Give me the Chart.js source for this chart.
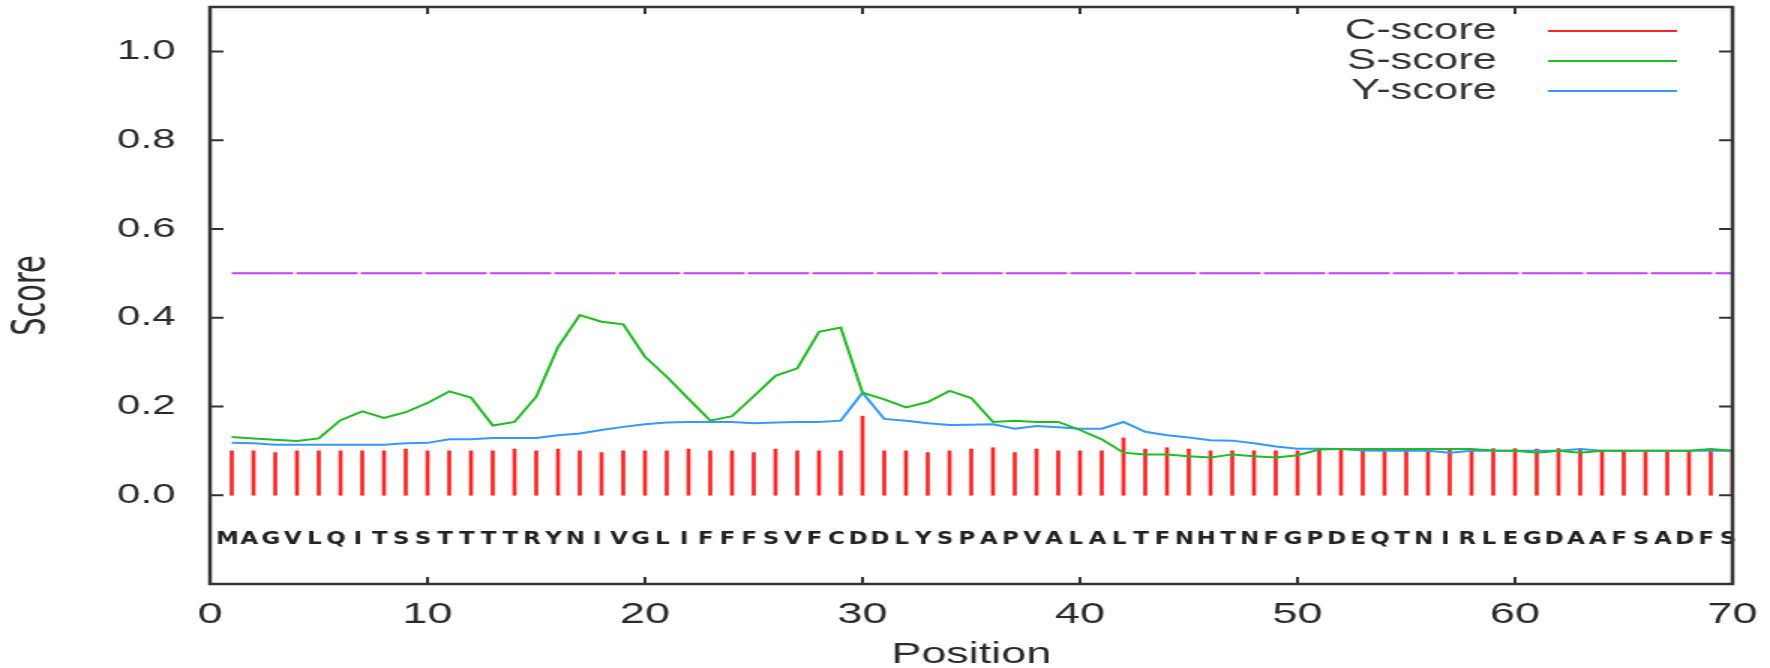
<!DOCTYPE html>
<html>
<head>
<meta charset="utf-8">
<title>SignalP scores</title>
<script src="https://cdn.jsdelivr.net/npm/chart.js@4.4.0/dist/chart.umd.min.js"></script>
<style>
  html, body { margin: 0; background: #fff; overflow: hidden; }
  /* plot is drawn narrow and stretched sideways, like the gnuplot png */
  #chart-1 { display: block; transform: scaleX(1.5); transform-origin: 0 0; }
</style>
</head>
<body>
<canvas id="chart-1" width="1180" height="668"></canvas>
<script>
/************************ declaring variables *********************************/

const positions = [
  1, 2, 3, 4, 5, 6, 7, 8, 9, 10, 11, 12, 13, 14, 15, 16, 17, 18, 19, 20,
  21, 22, 23, 24, 25, 26, 27, 28, 29, 30, 31, 32, 33, 34, 35, 36, 37, 38, 39, 40,
  41, 42, 43, 44, 45, 46, 47, 48, 49, 50, 51, 52, 53, 54, 55, 56, 57, 58, 59, 60,
  61, 62, 63, 64, 65, 66, 67, 68, 69, 70,
];
const residues = "MAGVLQITSSTTTTRYNIVGLIFFFSVFCDDLYSPAPVALALTFNHTNFGPDEQTNIRLEGDAAFSADFS".split("");

const cScore = [
  0.100, 0.100, 0.096, 0.100, 0.100, 0.100, 0.100, 0.100, 0.104, 0.100,
  0.100, 0.100, 0.100, 0.104, 0.100, 0.104, 0.100, 0.096, 0.100, 0.100,
  0.100, 0.104, 0.100, 0.100, 0.096, 0.104, 0.100, 0.100, 0.100, 0.178,
  0.100, 0.100, 0.096, 0.100, 0.104, 0.107, 0.096, 0.104, 0.100, 0.100,
  0.100, 0.129, 0.104, 0.107, 0.104, 0.100, 0.100, 0.100, 0.100, 0.100,
  0.104, 0.104, 0.100, 0.100, 0.100, 0.100, 0.104, 0.100, 0.105, 0.105,
  0.104, 0.105, 0.104, 0.100, 0.100, 0.100, 0.100, 0.100, 0.100, 0.100,
];
const sScore = [
  0.131, 0.128, 0.125, 0.122, 0.128, 0.169, 0.189, 0.174, 0.187, 0.208,
  0.234, 0.220, 0.157, 0.165, 0.222, 0.334, 0.406, 0.391, 0.385, 0.312,
  0.267, 0.217, 0.168, 0.178, 0.223, 0.269, 0.286, 0.368, 0.378, 0.231,
  0.216, 0.198, 0.210, 0.235, 0.219, 0.165, 0.168, 0.165, 0.165, 0.147,
  0.126, 0.096, 0.092, 0.092, 0.088, 0.085, 0.092, 0.088, 0.085, 0.090,
  0.103, 0.104, 0.104, 0.104, 0.104, 0.104, 0.104, 0.104, 0.101, 0.100,
  0.096, 0.100, 0.096, 0.100, 0.100, 0.100, 0.100, 0.100, 0.104, 0.100,
];
const yScore = [
  0.118, 0.117, 0.114, 0.114, 0.114, 0.114, 0.114, 0.114, 0.117, 0.118,
  0.126, 0.126, 0.129, 0.129, 0.129, 0.135, 0.139, 0.147, 0.154, 0.160,
  0.164, 0.165, 0.165, 0.165, 0.162, 0.164, 0.165, 0.165, 0.168, 0.231,
  0.172, 0.168, 0.162, 0.158, 0.159, 0.160, 0.150, 0.156, 0.153, 0.150,
  0.150, 0.165, 0.143, 0.135, 0.130, 0.124, 0.123, 0.117, 0.110, 0.105,
  0.105, 0.104, 0.101, 0.100, 0.100, 0.100, 0.096, 0.100, 0.100, 0.100,
  0.100, 0.100, 0.104, 0.100, 0.100, 0.100, 0.100, 0.100, 0.100, 0.100,
];

const cutoff = 0.5; // dashed threshold line
const residueLevel = -0.1; // sequence letters sit on this score level
const letterShift = -0.2;
const xTicks = [0, 10, 20, 30, 40, 50, 60, 70];
const yTicks = [0, 0.2, 0.4, 0.6, 0.8, 1.0];

/************************* helpers / plugins ******************************/

function toPoints(values) {
  return positions.map((p, i) => ({ x: p, y: values[i] }));
}

// box round the plot with inward ticks on all four sides
const framePlugin = {
  id: "frame",
  afterDraw(chart) {
    const { ctx, chartArea: a, scales } = chart;
    ctx.save();
    ctx.strokeStyle = "#333";
    ctx.lineWidth = 2.5;
    ctx.strokeRect(a.left, a.top, a.right - a.left, a.bottom - a.top);
    ctx.lineWidth = 2;
    ctx.beginPath();
    scales.y.ticks.forEach((t) => {
      const py = scales.y.getPixelForValue(t.value);
      ctx.moveTo(a.left, py);
      ctx.lineTo(a.left + 9, py);
      ctx.moveTo(a.right, py);
      ctx.lineTo(a.right - 9, py);
    });
    scales.x.ticks.forEach((t) => {
      const px = scales.x.getPixelForValue(t.value);
      ctx.moveTo(px, a.bottom);
      ctx.lineTo(px, a.bottom - 7);
      ctx.moveTo(px, a.top);
      ctx.lineTo(px, a.top + 7);
    });
    ctx.stroke();
    ctx.restore();
  },
};

// one-letter residue codes under the bars
const residuePlugin = {
  id: "residues",
  afterDatasetsDraw(chart) {
    const { ctx, scales } = chart;
    ctx.save();
    ctx.font = "bold 17px 'Liberation Sans Narrow', 'DejaVu Sans Condensed', sans-serif";
    ctx.fillStyle = "#222";
    ctx.textAlign = "center";
    ctx.textBaseline = "middle";
    const py = scales.y.getPixelForValue(residueLevel);
    residues.forEach((r, i) => {
      ctx.fillText(r, scales.x.getPixelForValue(positions[i] + letterShift), py);
    });
    ctx.restore();
  },
};

// gnuplot style key: label on the left, line sample on the right
const keyPlugin = {
  id: "key",
  afterDraw(chart) {
    const { ctx, chartArea: a } = chart;
    ctx.save();
    ctx.font = "29px 'Liberation Sans', Arial, sans-serif";
    ctx.fillStyle = "#333";
    ctx.textAlign = "right";
    ctx.textBaseline = "middle";
    ctx.lineWidth = 2;
    chart.data.datasets.slice(0, 3).forEach((ds, i) => {
      const y = a.top + 24 + i * 30;
      ctx.fillText(ds.label, a.right - 157, y);
      ctx.strokeStyle = ds.borderColor;
      ctx.beginPath();
      ctx.moveTo(a.right - 123, y);
      ctx.lineTo(a.right - 37, y);
      ctx.stroke();
    });
    ctx.restore();
  },
};

/************************* SCORE CHART ******************************/

Chart.defaults.font.family = "'Liberation Sans', Arial, sans-serif";
Chart.defaults.color = "#2a2a2a";

const ctx1 = document.getElementById("chart-1").getContext("2d");
const myChart1 = new Chart(ctx1, {
  type: "bar",
  data: {
    datasets: [
      {
        type: "bar",
        label: "C-score",
        data: toPoints(cScore),
        backgroundColor: "#ff2424",
        borderColor: "#ff2424",
        borderWidth: 0,
        barThickness: 2,
        order: 3,
      },
      {
        type: "line",
        label: "S-score",
        data: toPoints(sScore),
        borderColor: "#22bb22",
        borderWidth: 2,
        pointRadius: 0,
        tension: 0,
        order: 1,
      },
      {
        type: "line",
        label: "Y-score",
        data: toPoints(yScore),
        borderColor: "#3399ff",
        borderWidth: 2,
        pointRadius: 0,
        tension: 0,
        order: 2,
      },
      {
        type: "line",
        label: "cutoff",
        data: [
          { x: positions[0], y: cutoff },
          { x: positions[positions.length - 1], y: cutoff },
        ],
        borderColor: "#c43cff",
        borderWidth: 2,
        borderDash: [41, 2],
        pointRadius: 0,
        order: 0,
      },
    ],
  },
  options: {
    responsive: false,
    animation: false,
    layout: {
      padding: { left: 0, right: 25, top: 7, bottom: 0 },
    },
    plugins: {
      legend: { display: false },
      tooltip: { enabled: false },
    },
    scales: {
      x: {
        type: "linear",
        min: 0,
        max: 70,
        offset: false,
        grid: { display: false, drawTicks: false },
        border: { display: false },
        afterBuildTicks: (s) => {
          s.ticks = xTicks.map((v) => ({ value: v }));
        },
        afterFit: (s) => {
          s.height = 84;
          s.paddingLeft = 0;
          s.paddingRight = 0;
        },
        ticks: {
          autoSkip: false,
          maxRotation: 0,
          padding: 13,
          font: { size: 30 },
        },
        title: {
          display: true,
          text: "Position",
          font: { size: 30, lineHeight: 1 },
          padding: { top: 0, bottom: -2 },
        },
      },
      y: {
        min: -0.2,
        max: 1.1,
        grid: { display: false, drawTicks: false },
        border: { display: false },
        afterBuildTicks: (s) => {
          s.ticks = yTicks.map((v) => ({ value: v }));
        },
        afterFit: (s) => {
          s.width = 140;
          s.paddingTop = 0;
          s.paddingBottom = 0;
        },
        ticks: {
          padding: 23,
          font: { size: 28 },
          callback: (v) => v.toFixed(1),
        },
        title: {
          display: true,
          text: "Score",
          font: { family: "'Liberation Sans Narrow', 'DejaVu Sans Condensed', sans-serif", size: 32, lineHeight: 1 },
          padding: { top: 6, bottom: 0 },
        },
      },
    },
  },
  plugins: [framePlugin, residuePlugin, keyPlugin],
});
</script>
</body>
</html>
